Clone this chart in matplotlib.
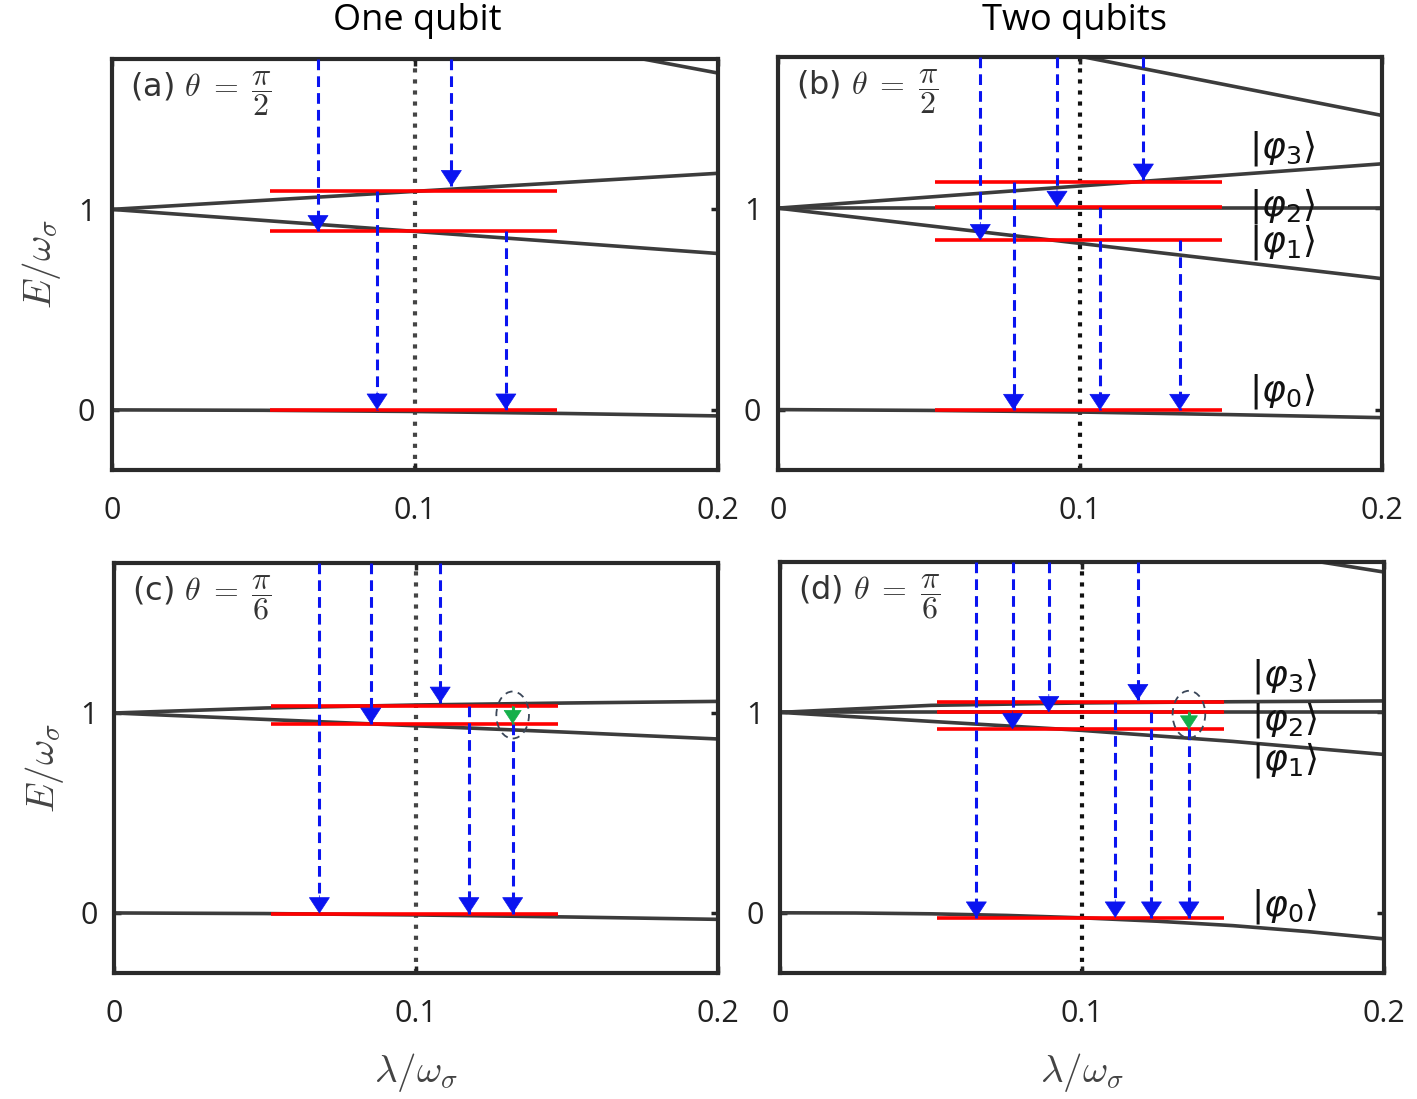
import matplotlib
matplotlib.use('Agg')
import matplotlib.pyplot as plt
from matplotlib.patches import Ellipse

plt.rcParams['mathtext.fontset'] = 'cm'
plt.rcParams['font.family'] = ['Open Sans', 'DejaVu Sans']

# energy levels
lam = [0, 0.05, 0.1, 0.15, 0.2]

Ea_up = [1, 1.045, 1.09, 1.135, 1.18]
Ea_lo = [1, 0.945, 0.89, 0.835, 0.78]
Ea_g = [0, -0.002, -0.008, -0.018, -0.03]
lam_top_a = [0.17, 0.2]
Ea_top = [1.765, 1.68]

Eb_3 = [1, 1.055, 1.11, 1.165, 1.22]
Eb_2 = [1, 1, 1, 1, 1]
Eb_1 = [1, 0.9125, 0.825, 0.7375, 0.65]
Eb_g = [0, -0.004, -0.012, -0.025, -0.04]
lam_top_b = [0.098, 0.2]
Eb_top = [1.76, 1.46]

Ec_up = [1, 1.025, 1.04, 1.05, 1.058]
Ec_lo = [1, 0.968, 0.936, 0.904, 0.87]
Ec_g = [0, -0.003, -0.01, -0.02, -0.032]

Ed_3 = [1, 1.035, 1.047, 1.053, 1.057]
Ed_2 = [1, 1, 1, 1, 1]
Ed_1 = [1, 0.955, 0.91, 0.855, 0.79]
lam_g_d = [0, 0.025, 0.05, 0.075, 0.1, 0.125, 0.15, 0.175, 0.2]
Ed_g = [0, -0.001, -0.005, -0.013, -0.025, -0.042, -0.064, -0.094, -0.13]
lam_top_d = [0.175, 0.2]
Ed_top = [1.76, 1.70]

# red reference levels (drawn between red_x0 and red_x1)
red_x0, red_x1 = 0.052, 0.147
red_a = [1.09, 0.89, 0.0]
red_b = [1.13, 1.005, 0.84, -0.003]
red_c = [1.035, 0.945, -0.003]
red_d = [1.05, 1.0, 0.915, -0.025]

# blue transitions: x, from, to  (1.75 = comes in from top)
arr_a_x = [0.068, 0.112, 0.0875, 0.130]
arr_a_from = [1.75, 1.75, 1.09, 0.89]
arr_a_to = [0.89, 1.115, 0.0, 0.0]

arr_b_x = [0.067, 0.0924, 0.121, 0.078, 0.1066, 0.133]
arr_b_from = [1.75, 1.75, 1.75, 1.13, 1.005, 0.84]
arr_b_to = [0.84, 1.005, 1.14, -0.003, -0.003, -0.003]

arr_c_x = [0.068, 0.085, 0.108, 0.1175, 0.132]
arr_c_from = [1.75, 1.75, 1.75, 1.035, 0.945]
arr_c_to = [-0.003, 0.945, 1.05, -0.003, -0.003]

arr_d_x = [0.065, 0.077, 0.089, 0.1185, 0.111, 0.123, 0.1354]
arr_d_from = [1.75, 1.75, 1.75, 1.75, 1.05, 1.0, 0.915]
arr_d_to = [-0.025, 0.915, 1.0, 1.06, -0.025, -0.025, -0.025]

green_c = (0.132, 1.035, 0.945)
green_d = (0.1354, 1.0, 0.915)

kets = [r'$|\varphi_3\rangle$', r'$|\varphi_2\rangle$', r'$|\varphi_1\rangle$', r'$|\varphi_0\rangle$']
ket_y_b = [1.30, 1.01, 0.83, 0.09]
ket_y_d = [1.18, 0.96, 0.76, 0.035]

BLUE = '#0a14f0'
GREEN = '#14b04a'
LINE = '#3c3c3c'


def arrow(ax, x, y0, y1, col, ms=20):
    ax.plot([x, x], [y0, y1], color=col, lw=2.2, ls=(0, (3.5, 2)), zorder=4)
    ax.annotate('', xy=(x, y1), xytext=(x, y1 + 0.09),
                arrowprops=dict(arrowstyle='-|>,head_length=0.55,head_width=0.36',
                                color=col, lw=0.5, shrinkA=0, shrinkB=0,
                                mutation_scale=ms), zorder=5)


def panel(ax, curves, top, reds, ax_x, ax_from, ax_to, label, dotcol, green=None):
    for xs, E in curves:
        ax.plot(xs, E, color=LINE, lw=2.6, zorder=2)
    if top is not None:
        ax.plot(top[0], top[1], color=LINE, lw=2.6, zorder=2)
    ax.axvline(0.1, color=dotcol, ls=':', lw=3, zorder=1)
    ax.hlines(reds, red_x0, red_x1, color='red', lw=2.6, zorder=3)
    for x, a, b in zip(ax_x, ax_from, ax_to):
        arrow(ax, x, a, b, BLUE)
    if green is not None:
        arrow(ax, green[0], green[1], green[2], GREEN, ms=17)
        ax.add_patch(Ellipse((green[0], 0.99), 0.0108, 0.235, fill=False,
                             ec='#3a4658', ls=(0, (4, 3)), lw=1.3, zorder=6))
    ax.set_xlim(0, 0.2)
    ax.set_ylim(-0.3, 1.75)
    ax.set_xticks([0, 0.1, 0.2])
    ax.set_xticklabels(['0', '0.1', '0.2'])
    ax.set_yticks([0, 1])
    ax.set_yticklabels(['0', '1'])
    ax.tick_params(direction='in', length=5, width=2.5, top=True, right=True,
                   labelsize=22, colors='#222222')
    ax.tick_params(axis='x', pad=19)
    ax.tick_params(axis='y', pad=12)
    for s in ax.spines.values():
        s.set_linewidth(3)
        s.set_color('#2a2a2a')
    ax.text(0.03, 0.975, label, transform=ax.transAxes, ha='left', va='top',
            fontsize=23, color='#333333', family='DejaVu Sans')


fig = plt.figure(figsize=(14.17, 10.99), dpi=100)
axa = fig.add_axes([0.079, 0.5723, 0.4277, 0.374])
axb = fig.add_axes([0.549, 0.5723, 0.4263, 0.3758])
axc = fig.add_axes([0.0805, 0.1147, 0.4262, 0.373])
axd = fig.add_axes([0.5505, 0.1147, 0.4262, 0.3739])

panel(axa, [(lam, Ea_up), (lam, Ea_lo), (lam, Ea_g)], (lam_top_a, Ea_top), red_a,
      arr_a_x, arr_a_from, arr_a_to, r'(a) $\theta\;=\;\dfrac{\pi}{2}$', '#444444')
panel(axb, [(lam, Eb_3), (lam, Eb_2), (lam, Eb_1), (lam, Eb_g)], (lam_top_b, Eb_top), red_b,
      arr_b_x, arr_b_from, arr_b_to, r'(b) $\theta\;=\;\dfrac{\pi}{2}$', '#111111')
panel(axc, [(lam, Ec_up), (lam, Ec_lo), (lam, Ec_g)], None, red_c,
      arr_c_x, arr_c_from, arr_c_to, r'(c) $\theta\;=\;\dfrac{\pi}{6}$', '#444444', green_c)
panel(axd, [(lam, Ed_3), (lam, Ed_2), (lam, Ed_1), (lam_g_d, Ed_g)], (lam_top_d, Ed_top), red_d,
      arr_d_x, arr_d_from, arr_d_to, r'(d) $\theta\;=\;\dfrac{\pi}{6}$', '#111111', green_d)

for ax, ys in [(axb, ket_y_b), (axd, ket_y_d)]:
    for k, y in zip(kets, ys):
        ax.text(0.156, y, k, fontsize=26, va='center', ha='left',
                math_fontfamily='dejavusans', color='#111111', clip_on=False)

for ax in [axa, axc]:
    ax.set_ylabel(r'$E/\omega_\sigma$', fontsize=28, color='#444444')
    ax.yaxis.set_label_coords(-0.08, 0.5)
for ax in [axc, axd]:
    ax.set_xlabel(r'$\lambda/\omega_\sigma$', fontsize=28, color='#444444')
    ax.xaxis.set_label_coords(0.5, -0.19)

fig.text(417 / 1417, 1 - 21 / 1099, 'One qubit', fontsize=26, ha='center', va='center')
fig.text(1075 / 1417, 1 - 21 / 1099, 'Two qubits', fontsize=26, ha='center', va='center')

fig.savefig('out.png', dpi=100)
